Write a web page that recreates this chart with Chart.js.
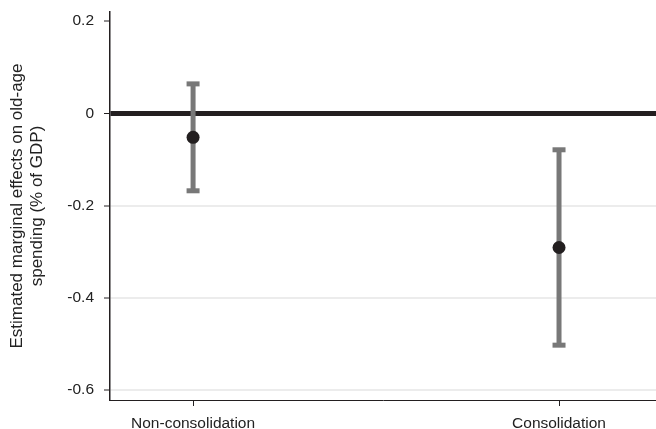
<!DOCTYPE html>
<html>
<head>
<meta charset="utf-8">
<script src="https://cdn.jsdelivr.net/npm/chart.js@4"></script>
<style>
  html, body { margin: 0; padding: 0; background: #fff; }
</style>
</head>
<body>
<canvas id="effectsChart" width="656" height="429"></canvas>
<script>
// values
const categories = ['Non-consolidation', 'Consolidation'];
const estimates = [-0.052, -0.291];
const lowerCI = [-0.168, -0.503];
const upperCI = [0.064, -0.079];
const yTicks = [0.2, 0, -0.2, -0.4, -0.6];
const yTickLabels = ['0.2', '0', '-0.2', '-0.4', '-0.6'];
const yTitle = ['Estimated marginal effects on old-age', 'spending (% of GDP)'];

const FONT = "'Liberation Sans', Arial, sans-serif";
const DARK = '#231f20';
const GREY = '#787878';

// one little line dataset per confidence interval
let errorBars = categories.map((c, i) => ({
  label: c + ' CI',
  data: [{x: i, y: lowerCI[i]}, {x: i, y: upperCI[i]}],
  showLine: true,
  borderColor: GREY,
  borderWidth: 5,
  pointStyle: 'line',
  pointRadius: 6.5,
  pointBorderWidth: 5,
  pointBorderColor: GREY,
  order: 2
}));

let points = {
  label: 'Estimate',
  data: categories.map((c, i) => ({x: i, y: estimates[i]})),
  pointRadius: 6.5,
  pointBackgroundColor: DARK,
  pointBorderColor: DARK,
  pointBorderWidth: 0,
  order: 1
};

var ctx = document.getElementById('effectsChart').getContext('2d');
var chart = new Chart(ctx, {
  type: 'scatter',
  data: {datasets: [...errorBars, points]},
  options: {
    responsive: false,
    animation: false,
    layout: {autoPadding: false, padding: {top: 12, right: 0, bottom: 0, left: 0}},
    plugins: {legend: {display: false}, tooltip: {enabled: false}},
    scales: {
      x: {
        type: 'linear',
        min: -0.227,
        max: 1.265,
        afterBuildTicks: s => { s.ticks = categories.map((c, i) => ({value: i})); },
        afterFit: s => { s.height = 29; s.paddingLeft = 0; s.paddingRight = 0; },
        ticks: {
          callback: v => categories[v],
          font: {family: FONT, size: 15.5},
          color: '#222',
          padding: 8,
          maxRotation: 0,
          autoSkip: false
        },
        grid: {drawOnChartArea: false, tickLength: 6, tickColor: DARK, tickWidth: 1},
        border: {color: DARK, width: 1}
      },
      y: {
        min: -0.622,
        max: 0.22,
        afterBuildTicks: s => { s.ticks = yTicks.map(v => ({value: v})); },
        afterFit: s => { s.width = 110; s.paddingTop = 0; s.paddingBottom = 0; },
        ticks: {
          callback: v => yTickLabels[yTicks.indexOf(v)],
          font: {family: FONT, size: 15.5},
          color: '#222',
          padding: 10
        },
        grid: {
          color: c => c.tick && c.tick.value === 0 ? DARK : (c.tick && c.tick.value === 0.2 ? 'rgba(0,0,0,0)' : '#ececec'),
          lineWidth: c => c.tick && c.tick.value === 0 ? 5 : 2,
          tickLength: 6,
          tickColor: DARK,
          tickWidth: 1
        },
        border: {color: DARK, width: 1.5},
        title: {
          display: true,
          text: yTitle,
          font: {family: FONT, size: 17, lineHeight: 1.15},
          color: '#222',
          padding: {top: 8, bottom: 0}
        }
      }
    }
  }
});
</script>
</body>
</html>
